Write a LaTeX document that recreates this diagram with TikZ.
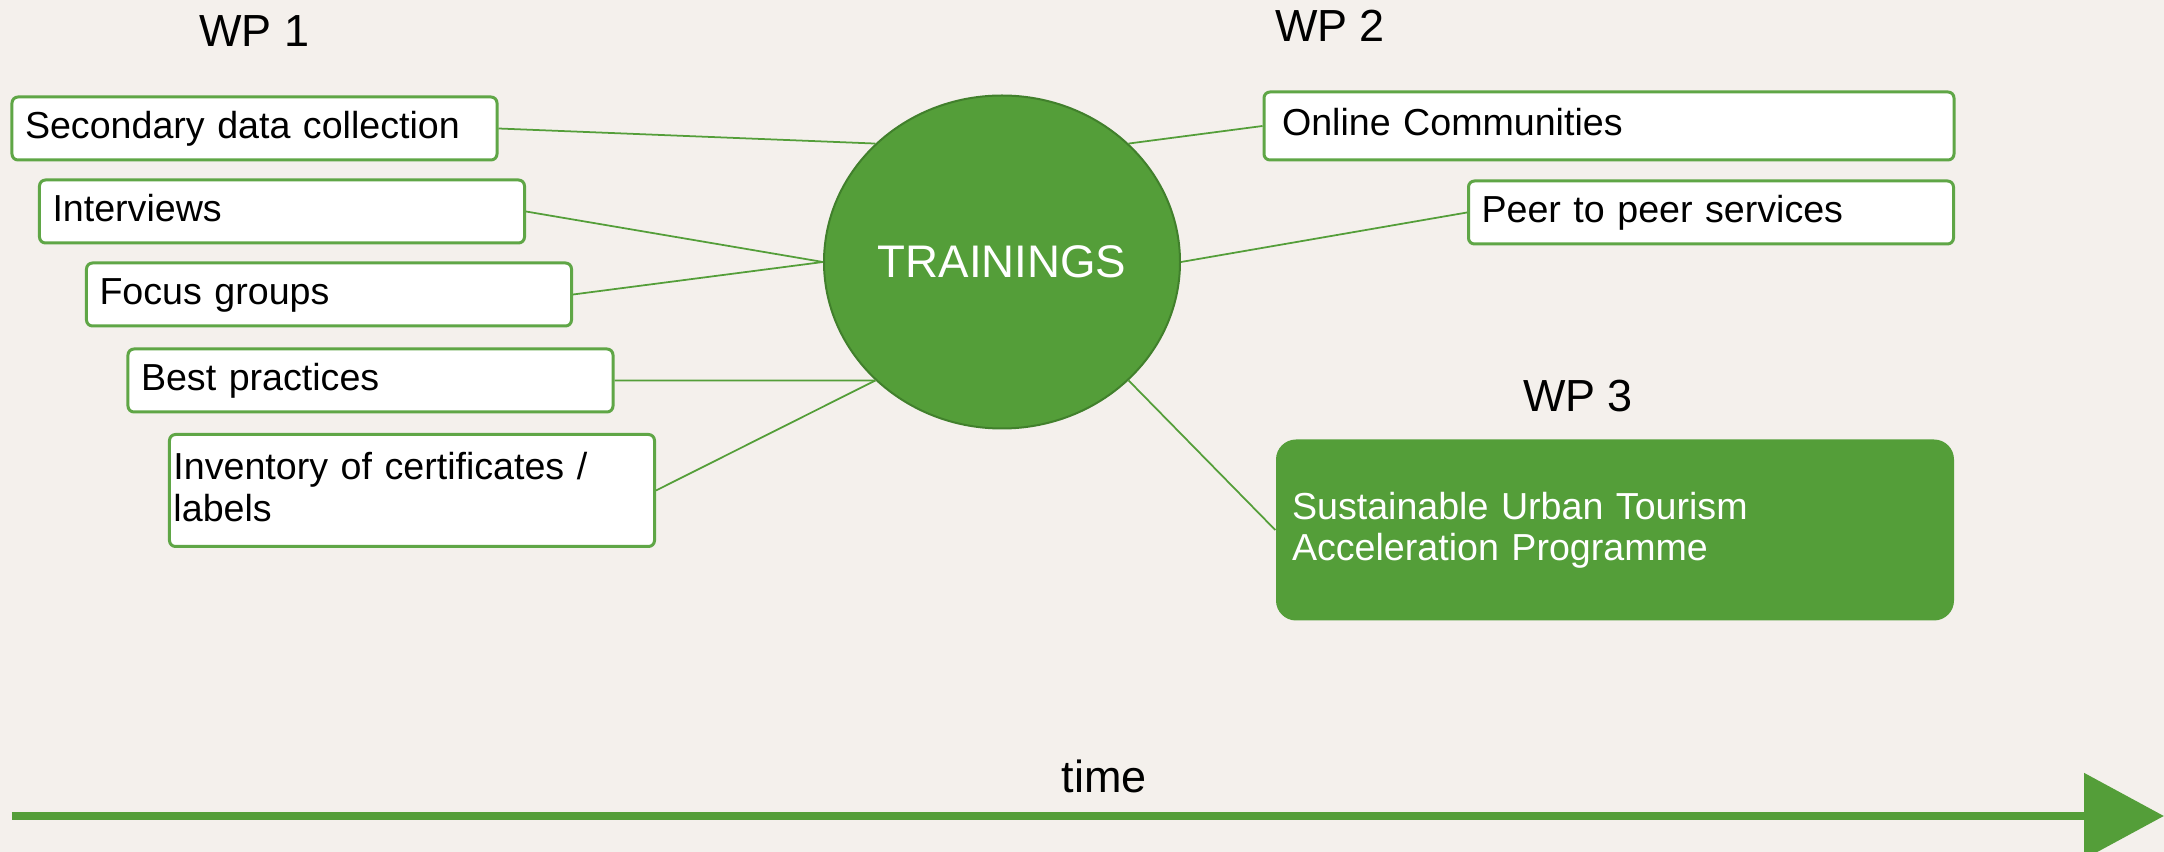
\documentclass[tikz,border=0pt]{standalone}
\usepackage{fontspec}
\setmainfont{Liberation Sans}
\usetikzlibrary{shapes.geometric, arrows.meta}
\definecolor{bgcream}{HTML}{F4F0EC}
\definecolor{wpgreen}{HTML}{549E39}
\definecolor{wpdark}{HTML}{41802C}
\definecolor{edgegreen}{HTML}{5FA646}
\tikzstyle{item} = [rectangle, rounded corners=0.06cm, minimum width=4.85cm, minimum height=0.63cm, text width=4.59cm, inner xsep=0.13cm, text height=0.28cm, text depth=0.08cm, align=left, draw=edgegreen, line width=0.03cm, fill=white, font=\fontsize{10.7}{11.8}\selectfont]
\tikzstyle{hub} = [ellipse, minimum width=3.56cm, minimum height=3.33cm, inner sep=0pt, fill=wpgreen, draw=wpdark, line width=0.02cm, text=white, font=\fontsize{13}{15}\selectfont]
\tikzstyle{programme} = [rectangle, rounded corners=0.2cm, minimum width=6.78cm, minimum height=1.81cm, text width=6.46cm, inner xsep=0.16cm, text height=0.28cm, text depth=0.495cm, align=left, fill=wpgreen, text=white, font=\fontsize{10.7}{11.8}\selectfont]
\tikzstyle{wplabel} = [font=\fontsize{12.8}{14}\selectfont]
\tikzstyle{link} = [draw=wpgreen, line width=0.5pt]
\tikzstyle{timeline} = [wpgreen, line width=0.09cm, -{Triangle[length=0.8cm, width=0.84cm]}]

\begin{document}
\begin{tikzpicture}[node distance=0.83cm]
\fill [bgcream] (0,0) rectangle (21.64,-8.52);
\useasboundingbox (0,0) rectangle (21.64,-8.52);
\node (train) [hub] at (10.02,-2.62) {TRAININGS};
\node (sec) [item, left of=train, xshift=-6.645cm, yshift=1.335cm] {Secondary data collection};
\node (intv) [item, below of=sec, xshift=0.275cm] {Interviews};
\node (focus) [item, below of=intv, xshift=0.47cm] {Focus groups};
\node (best) [item, below of=focus, xshift=0.415cm, yshift=-0.03cm] {Best practices};
\node (inv) [item, below of=best, xshift=0.415cm, yshift=-0.27cm, minimum height=1.12cm, text width=4.77cm, inner xsep=0.04cm, text depth=0.495cm] {Inventory of certificates /\\labels};
\node (online) [item, right of=train, xshift=5.24cm, yshift=1.36cm, minimum width=6.9cm, minimum height=0.68cm, text width=6.54cm, inner xsep=0.18cm] {Online Communities};
\node (peer) [item, below of=online, xshift=1.02cm, yshift=-0.035cm] {Peer to peer services};
\node (sutap) [programme, below of=peer, xshift=-0.96cm, yshift=-2.345cm] {Sustainable Urban Tourism\\Acceleration Programme};
\node (wp1) [wplabel, above of=sec, yshift=0.145cm] {WP 1};
\node (wp2) [wplabel, above of=online, xshift=-2.79cm, yshift=0.17cm] {WP 2};
\node (wp3) [wplabel, above of=sutap, xshift=-0.37cm, yshift=0.51cm] {WP 3};
\node (time) [wplabel, below of=train, xshift=1.02cm, yshift=-4.31cm] {time};
\coordinate (tstart) at (0.12,-8.16);
\coordinate (tend) at (21.64,-8.16);

\draw [link] (sec.east) -- (train.north west);
\draw [link] (intv.east) -- (train.west);
\draw [link] (focus.east) -- (train.west);
\draw [link] (best.east) -- (train.south west);
\draw [link] (inv.east) -- (train.south west);
\draw [link] (train.north east) -- (online.west);
\draw [link] (train.east) -- (peer.west);
\draw [link] (train.south east) -- (sutap.west);
\draw [timeline] (tstart) -- (tend);
\end{tikzpicture}
\end{document}
